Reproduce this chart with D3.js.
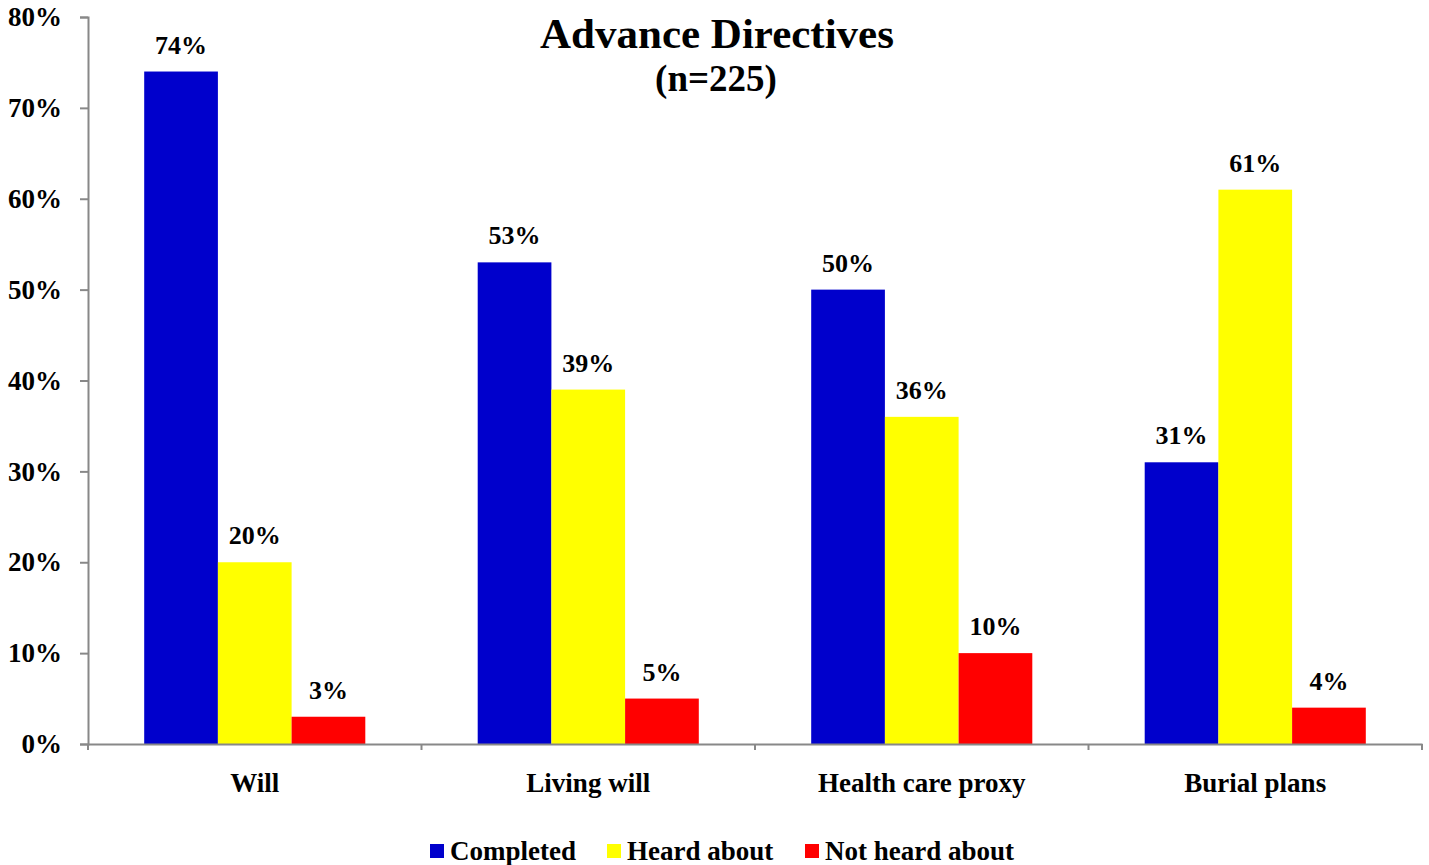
<!DOCTYPE html>
<html><head><meta charset="utf-8">
<script src="https://cdn.jsdelivr.net/npm/d3@7"></script>
<style>body{margin:0;background:#fff}svg{display:block}text{font-family:"Liberation Serif","Times New Roman",serif;font-weight:bold;fill:#000}</style>
</head><body>
<script>
const categories = ["Will", "Living will", "Health care proxy", "Burial plans"];
const seriesNames = ["Completed", "Heard about", "Not heard about"];
const seriesColors = ["#0000CC", "#FFFF00", "#FF0000"];
const completed = [74, 53, 50, 31];
const heardAbout = [20, 39, 36, 61];
const notHeardAbout = [3, 5, 10, 4];
const yTicks = [0, 10, 20, 30, 40, 50, 60, 70, 80];
const title = "Advance Directives";
const subtitle = "(n=225)";

(function () {
const W = 1429, H = 865;
const svg = d3.select("body").append("svg").attr("width", W).attr("height", H);
const mLeft = 88, mRight = 1422, mTop = 17, mBottom = 744;
const x = d3.scaleBand().domain(categories).range([mLeft, mRight]).paddingInner(0).paddingOuter(0);
const xs = d3.scaleBand().domain(seriesNames).range([0, x.bandwidth()]).paddingInner(0).paddingOuter(0.7625);
const y = d3.scaleLinear().domain([0, 80]).range([mBottom, mTop]);
const series = [completed, heardAbout, notHeardAbout];

// bars
series.forEach((vals, si) => {
  const g = svg.append("g");
  g.selectAll("rect").data(categories).join("rect")
    .attr("x", c => x(c) + xs(seriesNames[si]))
    .attr("y", (c, i) => y(vals[i]))
    .attr("width", xs.bandwidth())
    .attr("height", (c, i) => y(0) - y(vals[i]))
    .attr("fill", seriesColors[si]);
  g.selectAll("text").data(categories).join("text")
    .attr("x", c => x(c) + xs(seriesNames[si]) + xs.bandwidth() / 2)
    .attr("y", (c, i) => y(vals[i]) - 18)
    .attr("text-anchor", "middle").attr("font-size", 26)
    .text((c, i) => vals[i] + "%");
});

// y axis
const yAxis = svg.append("g").attr("transform", `translate(${mLeft},0)`)
  .call(d3.axisLeft(y).tickValues(yTicks).tickFormat(d => d + "%").tickSize(8).tickPadding(18));
yAxis.selectAll("line,path").attr("stroke", "#888").attr("stroke-width", 2);
yAxis.selectAll("text").attr("font-size", 27).attr("font-family", "Liberation Serif").attr("font-weight", "bold");

// x axis
const xAxis = svg.append("g").attr("transform", `translate(0,${mBottom})`)
  .call(d3.axisBottom(x).tickSize(0).tickPadding(29));
xAxis.select("path").attr("stroke", "#888").attr("stroke-width", 2);
xAxis.selectAll("text").attr("font-size", 27).attr("font-family", "Liberation Serif").attr("font-weight", "bold");
const bounds = categories.map(c => x(c)).concat([x(categories[categories.length - 1]) + x.bandwidth()]);
xAxis.selectAll("line.sep").data(bounds).join("line").attr("class", "sep")
  .attr("x1", d => d).attr("x2", d => d).attr("y1", 0).attr("y2", 6)
  .attr("stroke", "#888").attr("stroke-width", 2);

// title
svg.append("text").attr("x", 717).attr("y", 48).attr("text-anchor", "middle").attr("font-size", 43).text(title);
svg.append("text").attr("x", 716).attr("y", 91).attr("text-anchor", "middle").attr("font-size", 37).text(subtitle);

// legend
const legendX = [430, 607, 805];
const lg = svg.append("g");
seriesNames.forEach((n, i) => {
  lg.append("rect").attr("x", legendX[i]).attr("y", 844).attr("width", 14).attr("height", 14).attr("fill", seriesColors[i]);
  lg.append("text").attr("x", legendX[i] + 20).attr("y", 860).attr("font-size", 27).text(n);
});
})();
</script>
</body></html>
